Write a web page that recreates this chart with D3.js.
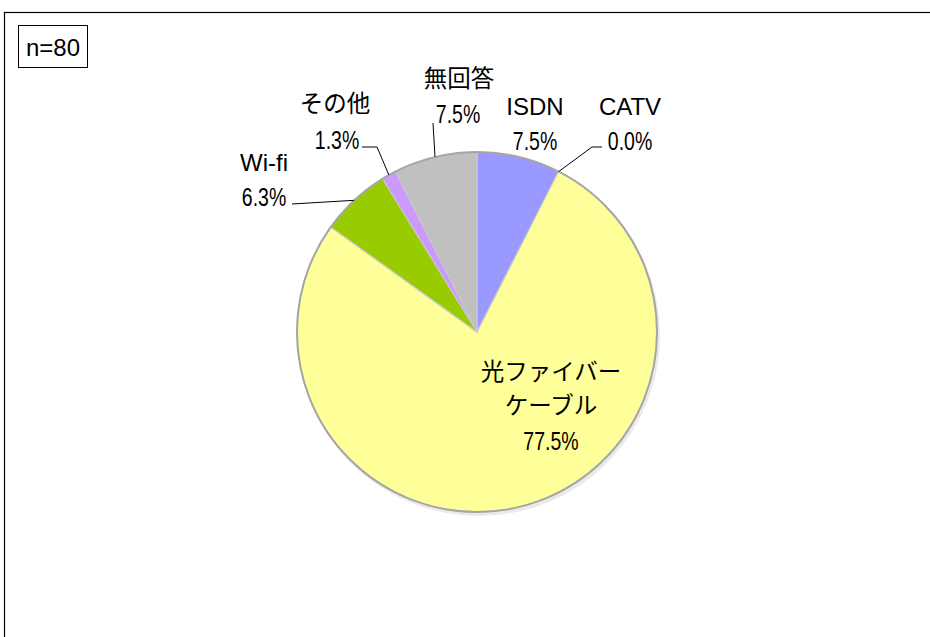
<!DOCTYPE html>
<html>
<head>
<meta charset="utf-8">
<script src="https://cdn.jsdelivr.net/npm/d3@7"></script>
<style>
  html, body { margin: 0; padding: 0; background: #fff; }
  svg { display: block; }
  .name { font-family: "Liberation Sans", "Noto Sans CJK JP", sans-serif; font-size: 24px; fill: #000; }
  .cjk { font-family: "Noto Sans CJK JP", sans-serif; font-size: 23.5px; font-weight: 400; }
  .pct { font-family: "Liberation Sans", sans-serif; font-size: 25px; fill: #000; }
</style>
</head>
<body>
<script>
// Connection type shares (percent of respondents)
const categories = ["ISDN", "CATV", "光ファイバーケーブル", "Wi-fi", "その他", "無回答"];
const percents = [7.5, 0.0, 77.5, 6.3, 1.3, 7.5];
const nameLines = [["ISDN"], ["CATV"], ["光ファイバー", "ケーブル"], ["Wi-fi"], ["その他"], ["無回答"]];
const sampleLabel = "n=80";

const colors = ["#9999ff", "#ffffff", "#ffff99", "#99cc00", "#cc99ff", "#c0c0c0"];

// Label placement relative to the pie centre: name lines, value, leader bends
const labelLayout = [
  { name: [58, -226], value: [58, -191], leader: null },
  { name: [153, -226], value: [153, -191], leader: [[125, -185], [115, -185]] },
  { name: [74, 40], lineGap: 34, value: [74, 109], leader: null },
  { name: [-213, -170], value: [-213, -135], leader: [[-185, -128]] },
  { name: [-142, -228], value: [-140, -192], leader: [[-115, -185], [-100, -185]] },
  { name: [-18, -253], value: [-19, -218], leader: [[-44, -209]] }
];

const W = 930, H = 637;
const cx = 477, cy = 332, R = 180;
const pctSqueeze = 0.78;   // condensed look for the percentage figures

const svg = d3.select("body").append("svg").attr("width", W).attr("height", H);

// Outer chart frame (top and left edges visible)
svg.append("rect")
  .attr("x", 4.5).attr("y", 12.5).attr("width", W + 10).attr("height", H + 10)
  .attr("fill", "#fff").attr("stroke", "#000").attr("stroke-width", 1.2);

// Sample size box
const nBox = svg.append("g");
nBox.append("rect")
  .attr("x", 18.5).attr("y", 25.5).attr("width", 69).attr("height", 42)
  .attr("fill", "#fff").attr("stroke", "#000").attr("stroke-width", 1);
nBox.append("text")
  .attr("class", "name")
  .attr("x", 53).attr("y", 47).attr("dy", "0.36em")
  .attr("text-anchor", "middle")
  .text(sampleLabel);

const data = categories.map((c, i) => ({ cat: c, v: percents[i], i }));

const pie = d3.pie().sort(null).value(d => d.v).startAngle(0).endAngle(2 * Math.PI);
const arcs = pie(data);
const arc = d3.arc().innerRadius(0).outerRadius(R);
const edge = d3.arc().innerRadius(R).outerRadius(R);

const g = svg.append("g").attr("transform", `translate(${cx},${cy})`);

// soft shadow behind the pie
g.append("circle").attr("cx", 2).attr("cy", 3).attr("r", R + 1)
  .attr("fill", "#d6d6d6").attr("opacity", 0.5);

g.selectAll("path.slice")
  .data(arcs.filter(d => d.data.v > 0))
  .join("path")
  .attr("class", "slice")
  .attr("d", arc)
  .attr("fill", d => colors[d.data.i])
  .attr("stroke", "#c8c8c8")
  .attr("stroke-width", 1.2)
  .attr("stroke-linejoin", "round");

g.append("circle").attr("r", R)
  .attr("fill", "none").attr("stroke", "#a6a6a6").attr("stroke-width", 2);

// Labels and leader lines
arcs.forEach(d => {
  const L = labelLayout[d.data.i];
  const lines = nameLines[d.data.i];
  const gap = L.lineGap || 34;
  lines.forEach((t, k) => {
    const isCjk = /[^\x00-\x7f]/.test(t);
    g.append("text")
      .attr("class", isCjk ? "name cjk" : "name")
      .attr("x", L.name[0]).attr("y", L.name[1] + k * gap)
      .attr("dy", "0.36em")
      .attr("text-anchor", "middle")
      .text(t);
  });
  g.append("text")
    .attr("class", "pct")
    .attr("transform", `translate(${L.value[0]},${L.value[1]}) scale(${pctSqueeze},1)`)
    .attr("dy", "0.36em")
    .attr("text-anchor", "middle")
    .text(d3.format(".1f")(d.data.v) + "%");

  if (L.leader) {
    const pts = L.leader.concat([edge.centroid(d)]);
    g.append("path")
      .attr("d", d3.line()(pts))
      .attr("fill", "none")
      .attr("stroke", "#000")
      .attr("stroke-width", 1);
  }
});
</script>
</body>
</html>
